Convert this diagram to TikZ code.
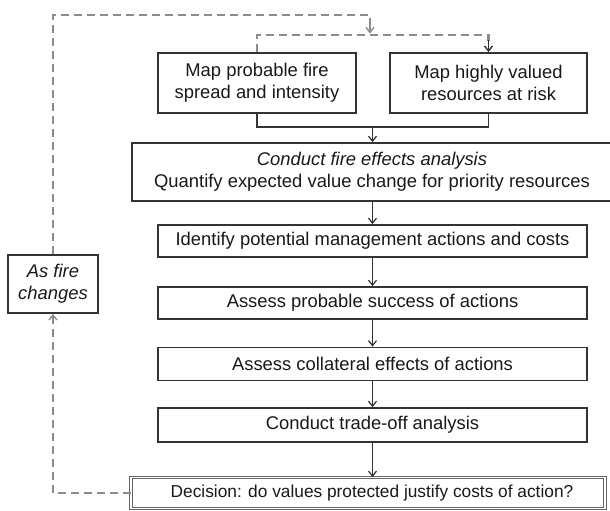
\documentclass[tikz,border=0pt]{standalone}
\usepackage{fontspec}
\setmainfont{Liberation Sans}
\usetikzlibrary{arrows.meta,calc}
\definecolor{boxline}{HTML}{333333}
\definecolor{dashgray}{HTML}{8C8C8C}
\begin{document}
\begin{tikzpicture}[x=1pt,y=-1pt,
  every node/.style={font=\fontsize{18.4}{21.7}\selectfont, text=black!90},
  box/.style={draw=boxline, line width=1.8pt, fill=white, inner sep=0pt, align=center},
  dbox/.style={draw=gray!80!black, double=white, double distance=1.6pt, line width=0.9pt, fill=white, inner sep=0pt, align=center, font=\fontsize{17.3}{20}\selectfont},
  arr/.style={draw=boxline, line width=1.3pt, -{Straight Barb[length=5pt,width=8pt,line width=1.2pt]}},
  conn/.style={draw=boxline, line width=1.3pt},
  dsh/.style={draw=dashgray, line width=2.3pt, dash pattern=on 8pt off 5pt},
  dtip/.style={-{Straight Barb[length=5pt,width=8pt,line width=1.4pt]}}
]
\useasboundingbox (0,0) rectangle (610,511);
% nodes
\node[box, minimum width=198pt, minimum height=60pt] (b1) at (257,83) {Map probable fire\\spread and intensity};
\node[box, minimum width=197pt, minimum height=60pt] (b2) at (488.5,83) {Map highly valued\\resources at risk};
\node[box, minimum width=480pt, minimum height=58pt] (b3) at (372,172) {\textit{Conduct fire effects analysis}\\Quantify expected value change for priority resources};
\node[box, minimum width=429pt, minimum height=32pt] (b4) at (372.5,241) {Identify potential management actions and costs};
\node[box, minimum width=429pt, minimum height=32pt] (b5) at (372.5,303) {Assess probable success of actions};
\node[box, minimum width=429pt, minimum height=33pt] (b6) at (372.5,364) {Assess collateral effects of actions};
\node[box, minimum width=429pt, minimum height=34pt] (b7) at (372.5,425) {Conduct trade-off analysis};
\node[dbox, minimum width=474pt, minimum height=31pt] (dec) at (368,493) {\hspace*{8pt}Decision: do values protected justify costs of action?};
\node[box, minimum width=90pt, minimum height=58pt] (fire) at (53,284) {\textit{As fire}\\\textit{changes}};
% merge
\coordinate (m) at (372.5,127);
\draw[conn] (b1.south) |- (m) -| (b2.south);
\draw[arr] (m) -- (m |- b3.north);
% chain
\draw[arr] (b3.south -| b4.north) -- (b4.north);
\draw[arr] (b4) -- (b5);
\draw[arr] (b5) -- (b6);
\draw[arr] (b6) -- (b7);
\draw[arr] (b7.south) -- (b7.south |- dec.north);
% dashed loop
\coordinate (tl) at (53,15);
\coordinate (tr) at (370,15);
\coordinate (inr) at (370,35);
\draw[dsh, dtip] (dec.west) -| (fire.south);
\draw[dsh] (fire.north) -- (tl) -- (tr) -- ++(0,12);
\draw[draw=dashgray, line width=1.4pt, dtip] ($(tr)+(0,11)$) -- ($(inr)+(0,-1.5)$);
\draw[dsh] (b1.north) |- (inr) -- (488.5,35) -- ++(0,6);
\draw[draw=boxline, line width=1.2pt, dtip] (488.5,40) -- (b2.north);
\end{tikzpicture}
\end{document}
